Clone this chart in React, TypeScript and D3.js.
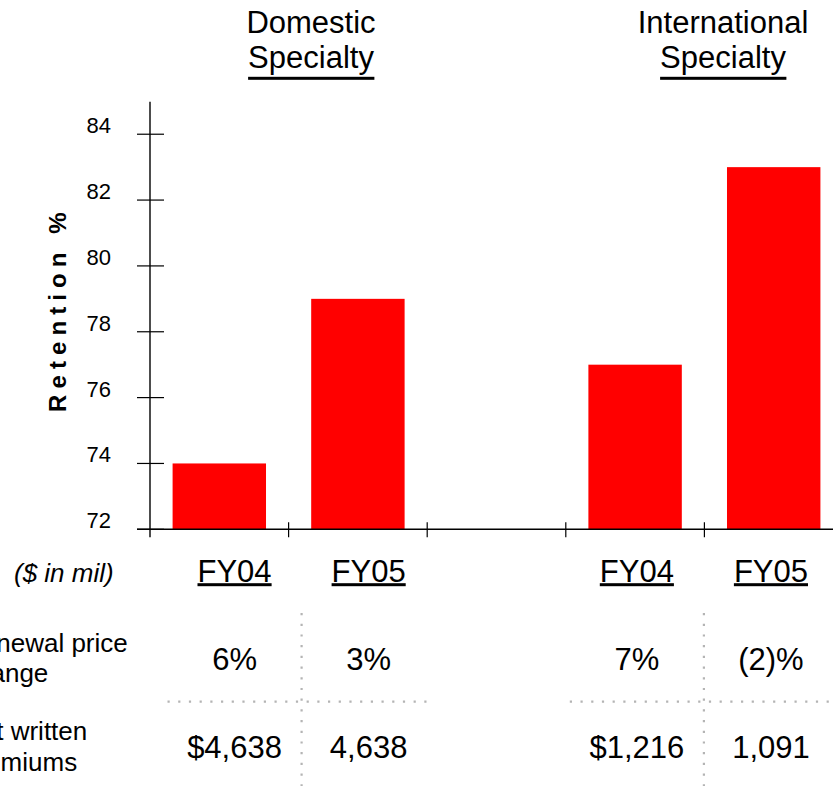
import React, { useEffect, useRef } from "react";
import * as d3 from "d3";

const W = 833;
const H = 786;

// ---- data ----
const categoryKeys = ["D-FY04", "D-FY05", "gap", "I-FY04", "I-FY05"];
const categoryLabels = ["FY04", "FY05", "", "FY04", "FY05"];
const retention: (number | null)[] = [74, 79, null, 77, 83];
const renewalPriceChange = ["6%", "3%", "", "7%", "(2)%"];
const netWrittenPremiums = ["$4,638", "4,638", "", "$1,216", "1,091"];
const yTicks = [72, 74, 76, 78, 80, 82, 84];
const groupTitles = ["Domestic", "International"];
const groupSubtitles = ["Specialty", "Specialty"];
const rowLabels = [
  ["Renewal price", "change"],
  ["Net written", "premiums"],
];
const unitNote = "($ in mil)";
const yAxisTitle = "Retention %";

const FONT = "Arial, 'Liberation Sans', Helvetica, sans-serif";

export default function App() {
  const ref = useRef<SVGSVGElement>(null);

  useEffect(() => {
    const svg = d3.select(ref.current);
    svg.selectAll("*").remove();

    const x = d3
      .scaleBand<string>()
      .domain(categoryKeys)
      .range([150, 843])
      .paddingInner(0.326)
      .paddingOuter(0.163);

    const y = d3.scaleLinear().domain([72, 85]).range([529.3, 101.3]);

    // table column scale
    const tx = d3.scaleBand<string>().domain(categoryKeys).range([167.5, 838]);
    const tc = (k: string) => (tx(k) as number) + tx.bandwidth() / 2;

    const axisColor = "#000";

    // bars
    svg
      .append("g")
      .selectAll("rect")
      .data(categoryKeys.map((k, i) => ({ k, v: retention[i] })).filter((d) => d.v !== null))
      .join("rect")
      .attr("x", (d) => x(d.k) as number)
      .attr("width", x.bandwidth())
      .attr("y", (d) => y(d.v as number))
      .attr("height", (d) => y(72) - y(d.v as number))
      .attr("fill", "#ff0000");

    // y axis
    const ax = svg.append("g");
    const x0 = 150;
    ax.append("line")
      .attr("x1", x0)
      .attr("x2", x0)
      .attr("y1", y(85) + 0.4)
      .attr("y2", y(72) + 8)
      .attr("stroke", axisColor)
      .attr("stroke-width", 1.4);
    ax.selectAll("line.yt")
      .data(yTicks)
      .join("line")
      .attr("class", "yt")
      .attr("x1", x0 - 13)
      .attr("x2", x0 + 14)
      .attr("y1", (d) => y(d))
      .attr("y2", (d) => y(d))
      .attr("stroke", axisColor)
      .attr("stroke-width", 1.2);
    ax.selectAll("text.yl")
      .data(yTicks)
      .join("text")
      .attr("class", "yl")
      .attr("x", 111)
      .attr("y", (d) => y(d) - 1)
      .attr("text-anchor", "end")
      .attr("font-family", FONT)
      .attr("font-size", 22)
      .attr("fill", "#000")
      .text((d) => d);

    // x axis
    ax.append("line")
      .attr("x1", x0 - 13)
      .attr("x2", W)
      .attr("y1", y(72))
      .attr("y2", y(72))
      .attr("stroke", axisColor)
      .attr("stroke-width", 1.4);
    const boundaries = categoryKeys.slice(1).map((k) => (x(k) as number) - (x.step() * 0.326) / 2);
    ax.selectAll("line.xt")
      .data(boundaries)
      .join("line")
      .attr("class", "xt")
      .attr("x1", (d) => d)
      .attr("x2", (d) => d)
      .attr("y1", y(72) - 7)
      .attr("y2", y(72) + 8)
      .attr("stroke", axisColor)
      .attr("stroke-width", 1.2);

    // y title
    svg
      .append("text")
      .attr("transform", `translate(65.5,412) rotate(-90)`)
      .attr("font-family", FONT)
      .attr("font-weight", "bold")
      .attr("font-size", 24)
      .attr("letter-spacing", 6.1)
      .attr("fill", "#000")
      .text(yAxisTitle);

    const underline = (sel: d3.Selection<SVGTextElement, any, any, any>, offset: number, thick: number) => {
      sel.each(function () {
        const bb = (this as SVGTextElement).getBBox();
        const yy = parseFloat((this as SVGTextElement).getAttribute("y") || "0");
        svg
          .append("rect")
          .attr("x", bb.x)
          .attr("width", bb.width)
          .attr("y", yy + offset)
          .attr("height", thick)
          .attr("fill", "#000");
      });
    };

    // group headers
    const headerX = [311, 723];
    groupTitles.forEach((t, i) => {
      svg
        .append("text")
        .attr("x", headerX[i])
        .attr("y", 33.3)
        .attr("text-anchor", "middle")
        .attr("font-family", FONT)
        .attr("font-size", 31)
        .attr("fill", "#000")
        .text(t);
      const s = svg
        .append("text")
        .attr("x", headerX[i])
        .attr("y", 68.3)
        .attr("text-anchor", "middle")
        .attr("font-family", FONT)
        .attr("font-size", 31)
        .attr("fill", "#000")
        .text(groupSubtitles[i]);
      underline(s as any, 8.5, 3);
    });

    // category labels (underlined)
    const catLabels = svg
      .append("g")
      .selectAll("text")
      .data(categoryKeys.map((k, i) => ({ k, l: categoryLabels[i] })).filter((d) => d.l))
      .join("text")
      .attr("x", (d) => tc(d.k))
      .attr("y", 581.7)
      .attr("text-anchor", "middle")
      .attr("font-family", FONT)
      .attr("font-size", 31)
      .attr("fill", "#000")
      .text((d) => d.l);
    underline(catLabels as any, 1.5, 3);

    // unit note
    svg
      .append("text")
      .attr("x", 14)
      .attr("y", 581.7)
      .attr("font-family", FONT)
      .attr("font-style", "italic")
      .attr("font-size", 26)
      .attr("fill", "#000")
      .text(unitNote);

    // table values
    const rowBaselines = [670, 757.5];
    [renewalPriceChange, netWrittenPremiums].forEach((row, r) => {
      svg
        .append("g")
        .selectAll("text")
        .data(categoryKeys.map((k, i) => ({ k, v: row[i] })).filter((d) => d.v))
        .join("text")
        .attr("x", (d) => tc(d.k))
        .attr("y", rowBaselines[r])
        .attr("text-anchor", "middle")
        .attr("font-family", FONT)
        .attr("font-size", 31)
        .attr("fill", "#000")
        .text((d) => d.v);
    });

    // row labels
    const rowLabelBaselines = [
      [651.7, 682.2],
      [740.2, 770.7],
    ];
    rowLabels.forEach((lines, r) => {
      lines.forEach((ln, j) => {
        svg
          .append("text")
          .attr("x", -37)
          .attr("y", rowLabelBaselines[r][j])
          .attr("font-family", FONT)
          .attr("font-size", 26)
          .attr("fill", "#000")
          .text(ln);
      });
    });

    // dotted table separators
    const dotColor = "#b4b4b4";
    const sepKeys = ["D-FY05", "I-FY05"];
    sepKeys.forEach((k) => {
      const sx = tx(k) as number;
      svg
        .append("line")
        .attr("x1", sx)
        .attr("x2", sx)
        .attr("y1", 613)
        .attr("y2", H)
        .attr("stroke", dotColor)
        .attr("stroke-width", 2.2)
        .attr("stroke-dasharray", "2.2,8.5");
    });
    const groupsSpan = [
      ["D-FY04", "D-FY05"],
      ["I-FY04", "I-FY05"],
    ];
    groupsSpan.forEach(([a, b], i) => {
      const xa = tx(a) as number;
      const xb = (tx(b) as number) + tx.bandwidth();
      svg
        .append("line")
        .attr("x1", xa)
        .attr("x2", i === 0 ? xb - 8 : xb)
        .attr("y1", 701.7)
        .attr("y2", 701.7)
        .attr("stroke", dotColor)
        .attr("stroke-width", 2.2)
        .attr("stroke-dasharray", "2.2,8.5");
    });
  }, []);

  return (
    <svg
      ref={ref}
      width={W}
      height={H}
      style={{ position: "absolute", left: 0, top: 0, background: "#fff" }}
    />
  );
}
